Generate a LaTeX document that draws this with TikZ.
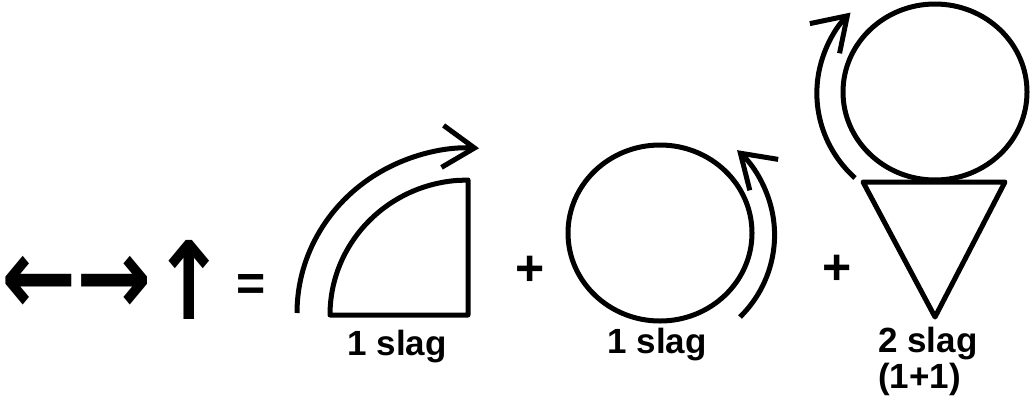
\documentclass[tikz,border=0pt]{standalone}
\usepackage{fontspec}
\setmainfont{Liberation Sans}
\newfontfamily\arrowfont{DejaVu Sans}
\usetikzlibrary{arrows.meta}

\begin{document}
\begin{tikzpicture}[
  x=1pt, y=-1pt,
  outline/.style = {line width=5pt, line join=round},
  turnarrow/.style = {line width=5pt, -{Straight Barb[length=32pt, width=42pt]}},
  slagtext/.style = {font=\fontsize{35}{36}\selectfont\bfseries, inner sep=0pt},
  optext/.style = {font=\fontsize{50}{50}\selectfont\bfseries, inner sep=0pt},
  dirtext/.style = {font=\fontsize{90}{90}\selectfont\arrowfont\bfseries, inner sep=0pt, yscale=1.2}
]
\fill[white] (0,0) rectangle (1032,410);
\useasboundingbox (0,0) rectangle (1032,410);

% left side
\node[dirtext] (left) at (39,285) {←};
\node[dirtext] (right) at (114,285) {→};
\node[dirtext] (up) at (189,280) {↑};
\node[optext] (equals) at (251,287) {=};

% quarter turn
\draw[outline] (330,315) arc[start angle=180, end angle=265, x radius=138, y radius=135]
  -- (468,180) -- (468,315) -- cycle;
\draw[turnarrow] (297,313) arc[start angle=180, end angle=273, x radius=173, y radius=165];
\node[slagtext, anchor=base] (quartertext) at (397,355) {1 slag};

\node[optext] (plusone) at (530,271) {+};

% full turn
\draw[outline] (660,233) ellipse[x radius=92, y radius=88];
\draw[turnarrow] (740,317) arc[start angle=45, end angle=-47, x radius=118, y radius=116];
\node[slagtext, anchor=base] (circletext) at (657,353) {1 slag};

\node[optext] (plustwo) at (837,270) {+};

% turn and cone
\draw[outline] (935,92) ellipse[x radius=92, y radius=88];
\draw[outline] (863,182) -- (1005,182) -- (935,317) -- cycle;
\draw[turnarrow] (855,178) arc[start angle=133, end angle=224, x radius=120, y radius=116];
\node[slagtext, anchor=base west, align=left] (conetext) at (878,388) {2 slag\\(1+1)};
\end{tikzpicture}
\end{document}
